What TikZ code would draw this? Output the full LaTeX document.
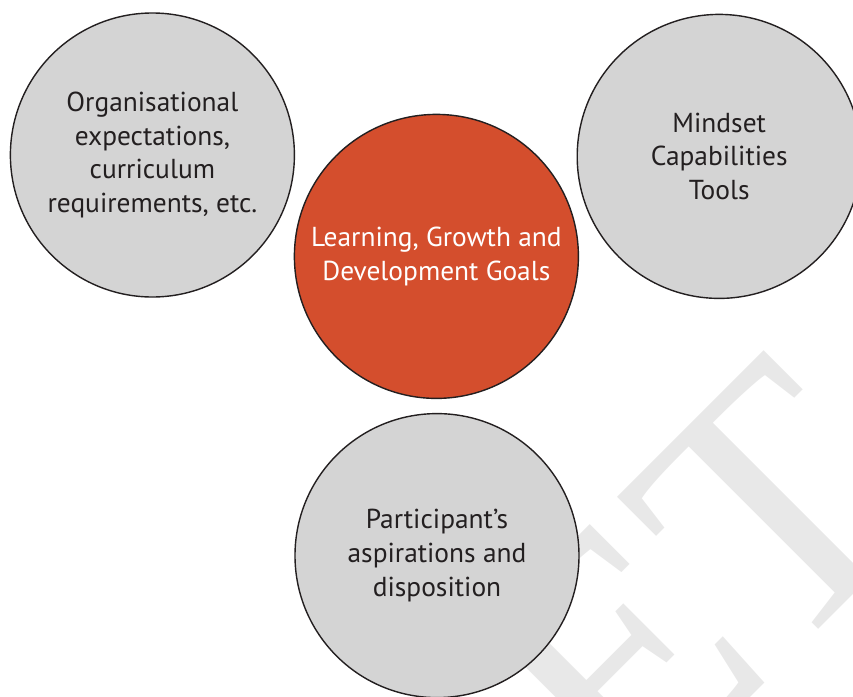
\documentclass[tikz,border=0pt]{standalone}
\usepackage{xcolor}
\usepackage{fontspec}
\setmainfont{PT Sans}
\newfontfamily\markfont{Liberation Serif}
\usepackage{tikz}
\usetikzlibrary{positioning}

\definecolor{goalred}{HTML}{D44E2D}
\definecolor{ringgray}{HTML}{D4D4D4}
\definecolor{inkdark}{HTML}{231F20}
\definecolor{markgray}{HTML}{E8E8E8}

\begin{document}
\begin{tikzpicture}[
  every node/.style={font=\fontsize{19.5}{24}\selectfont},
  % --- circle styles ---
  graydisc/.style={
    circle, draw=inkdark, line width=1pt, fill=ringgray,
    minimum size=\dia, inner sep=0pt, align=center, text=inkdark,
  },
  reddisc/.style={
    graydisc, fill=goalred, text=white,
  },
  stamp/.style={
    font=\markfont\fontsize{256}{256}\selectfont, text=markgray,
    rotate=45, inner sep=0pt, anchor=base west,
  },
]

% === Layout constants ===
\def\dia{7.1cm}   % circle diameter

\useasboundingbox (0,0) rectangle (21.325,-17.4);

% ---------- Background stamp ----------
\node[stamp] (mark) at (15.6,-20.6) {ET};

% ---------- Outer circles ----------
\node[graydisc] (orgs) at (3.81,-3.875)
  {Organisational\\expectations,\\curriculum\\requirements, etc.};
\node[graydisc] (kit) at (17.98,-3.91)
  {Mindset\\Capabilities\\Tools};
\node[graydisc] (self) at (10.925,-13.89)
  {Participant’s\\aspirations and\\disposition};

% ---------- Centre circle ----------
\node[reddisc] (goals) at (10.91,-6.41)
  {Learning, Growth and\\Development Goals};

\end{tikzpicture}
\end{document}
